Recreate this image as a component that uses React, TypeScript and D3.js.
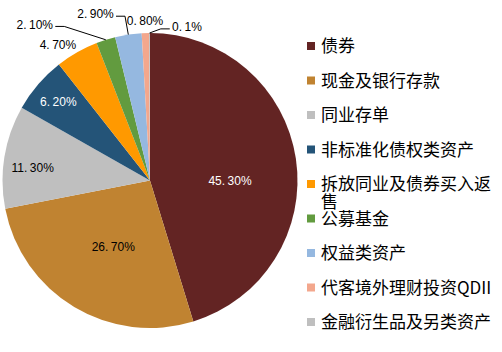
import { useEffect, useRef } from 'react'
import * as d3 from 'd3'

// slice data, clockwise from 12 o'clock
const categories = [
  '债券',
  '现金及银行存款',
  '同业存单',
  '非标准化债权类资产',
  '拆放同业及债券买入返售',
  '公募基金',
  '权益类资产',
  '代客境外理财投资QDII',
  '金融衍生品及另类资产',
]
const values = [45.3, 26.7, 11.3, 6.2, 4.7, 2.1, 2.9, 0.8, 0.1]
const valueLabels = ['45.30%', '26.70%', '11.30%', '6.20%', '4.70%', '2.10%', '2.90%', '0.80%', '0.1%']
const colors = ['#632423', '#c08331', '#bfbfbf', '#245478', '#ff9900', '#629b3f', '#95b8e0', '#f3a78d', '#bfbfbf']

// label placement: radius and angle shift (deg) from slice middle
const labelPos = [
  { r: 80, shift: 8.5, fill: '#fff', leader: false },
  { r: 76, shift: -2, fill: '#000', leader: false },
  { r: 118, shift: -3, fill: '#000', leader: false },
  { r: 121, shift: 0, fill: '#fff', leader: false },
  { r: 164, shift: -4.5, fill: '#000', leader: false },
  { r: 194, shift: -19, fill: '#000', leader: true },
  { r: 175, shift: -9.7, fill: '#000', leader: true },
  { r: 160, shift: 0, fill: '#000', leader: false },
  { r: 158, shift: 13.7, fill: '#000', leader: true },
]

export default function App() {
  const svgRef = useRef<SVGSVGElement>(null)

  useEffect(() => {
    if (!svgRef.current) return
    const width = 502
    const height = 352
    const svg = d3.select(svgRef.current)
    svg.selectAll('*').remove()
    svg.attr('width', width).attr('height', height)

    const cx = 150
    const cy = 180.5
    const radius = 147.5

    const pie = d3.pie<number>().sort(null).value(d => d)
    const arcs = pie(values)
    const arc = d3.arc<d3.PieArcDatum<number>>().innerRadius(0).outerRadius(radius)

    const g = svg.append('g').attr('transform', `translate(${cx},${cy})`)

    g.selectAll('path.slice')
      .data(arcs)
      .enter().append('path')
      .attr('class', 'slice')
      .attr('d', arc)
      .attr('fill', (d, i) => colors[i])

    // value labels
    const labelFont = '"Liberation Sans", Arial, sans-serif'
    arcs.forEach((a, i) => {
      const p = labelPos[i]
      const mid = (a.startAngle + a.endAngle) / 2
      const ang = mid + (p.shift * Math.PI) / 180
      const x = Math.sin(ang) * p.r
      const y = -Math.cos(ang) * p.r
      const [intPart, decPart] = valueLabels[i].split('.')
      const t = g.append('text')
        .attr('x', x)
        .attr('y', y)
        .attr('dy', '0.35em')
        .attr('text-anchor', 'middle')
        .style('font-family', labelFont)
        .style('font-size', '12px')
        .style('fill', p.fill)
      t.append('tspan').text(intPart + '.')
      t.append('tspan').attr('dx', 2.5).text(decPart)

      if (p.leader) {
        const halfW = (t.node() as SVGTextElement).getComputedTextLength() / 2 + 1.5
        const ex = Math.sin(mid) * radius
        const ey = -Math.cos(mid) * radius
        const dir = ex < x ? -1 : 1
        const sx = x + dir * (halfW + 2)
        const ly = y + 2
        const elbowX = sx + dir * 9
        g.append('path')
          .attr('d', `M${sx},${ly}L${elbowX},${ly}L${ex},${ey}`)
          .attr('fill', 'none')
          .attr('stroke', '#000')
          .attr('stroke-width', 1)
      }
    })

    // legend
    const rowY = d3.scalePoint<string>().domain(categories).range([46, 322])
    const legend = svg.append('g')
    const textX = 321
    const maxW = width - textX - 2
    categories.forEach((c, i) => {
      const y = rowY(c) as number
      legend.append('rect')
        .attr('x', 307)
        .attr('y', y - 4)
        .attr('width', 8)
        .attr('height', 8)
        .attr('fill', colors[i])
      const text = legend.append('text')
        .attr('x', textX)
        .attr('y', y)
        .attr('dy', '0.36em')
        .style('font-family', '"Noto Sans CJK SC", sans-serif')
        .style('font-size', '17px')
        .style('fill', '#000')
      // wrap by measured width
      let line = ''
      let tspan = text.append('tspan').attr('x', textX)
      let lineNo = 0
      for (const ch of c) {
        tspan.text(line + ch)
        if ((tspan.node() as SVGTSpanElement).getComputedTextLength() > maxW && line) {
          tspan.text(line)
          lineNo++
          line = ch
          tspan = text.append('tspan').attr('x', textX).attr('dy', 18).text(ch)
        } else {
          line += ch
        }
      }
    })
  }, [])

  return (
    <div style={{ position: 'absolute', left: 0, top: 0, width: 502, height: 352, background: '#fff' }}>
      <svg ref={svgRef} />
    </div>
  )
}
